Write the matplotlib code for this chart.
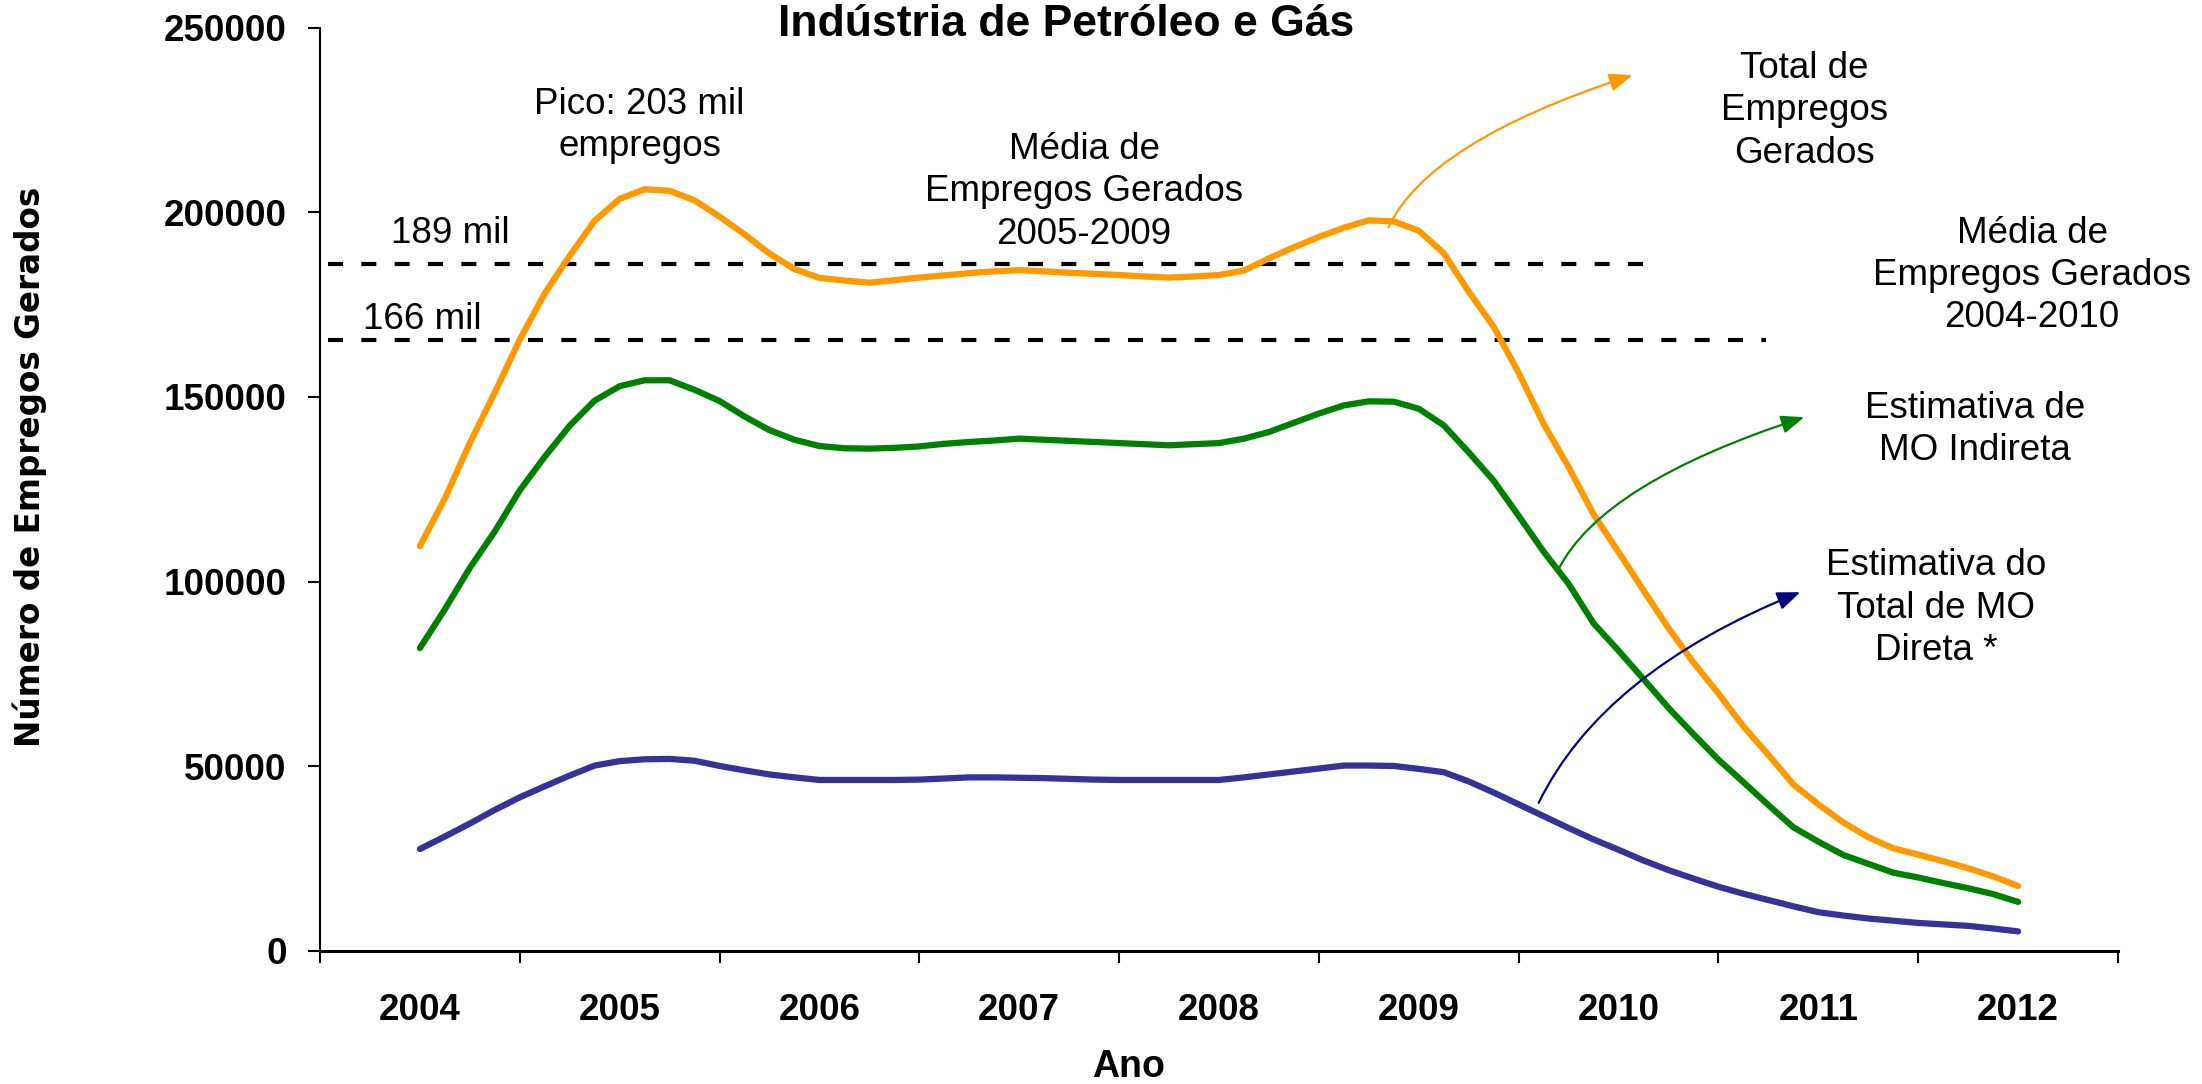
import matplotlib
matplotlib.use("Agg")
import matplotlib.pyplot as plt
import numpy as np

# ---------------- data ----------------
years = [2004, 2005, 2006, 2007, 2008, 2009, 2010, 2011, 2012]
# sample points every 1/8 year from 2004.0 to 2012.0
t = [2004 + i / 8 for i in range(65)]

total_empregos = [
    109600, 122500, 137500, 151200, 165500, 178000, 188200, 197700,
    203600, 206200, 205800, 203200, 198800, 194000, 188800, 184600,
    182200, 181500, 180900, 181600, 182300, 182900, 183500, 184000,
    184300, 184000, 183600, 183300, 183000, 182600, 182300, 182600,
    183000, 184200, 187500, 190500, 193300, 195800, 197800, 197500,
    195000, 188900, 178500, 169000, 156500, 142700, 131000, 118200,
    108000, 97600, 87400, 78100, 69700, 60800, 53100, 45100,
    39700, 34800, 30800, 27800, 26100, 24300, 22400, 20200,
    17600,
]
mo_indireta = [
    82000, 92500, 103700, 113600, 124700, 133800, 142200, 149000,
    152900, 154500, 154500, 151900, 148900, 144700, 141000, 138400,
    136700, 136100, 136000, 136200, 136600, 137300, 137800, 138200,
    138700, 138400, 138100, 137800, 137500, 137200, 136900, 137200,
    137500, 138700, 140500, 143000, 145500, 147700, 148800, 148700,
    146800, 142300, 135000, 127300, 117800, 108100, 99400, 88700,
    81300, 73600, 65800, 58700, 51800, 45700, 39500, 33500,
    29600, 26000, 23600, 21200, 19900, 18400, 17000, 15400,
    13300,
]
mo_direta = [
    27600, 31000, 34500, 38200, 41600, 44600, 47500, 50200,
    51400, 51900, 52000, 51500, 50100, 48900, 47800, 47000,
    46300, 46300, 46300, 46300, 46400, 46700, 47000, 47000,
    46900, 46800, 46600, 46400, 46300, 46300, 46300, 46300,
    46300, 47000, 47800, 48600, 49400, 50200, 50200, 50100,
    49300, 48400, 45900, 42900, 39700, 36500, 33300, 30200,
    27400, 24500, 21900, 19600, 17400, 15500, 13800, 12100,
    10500, 9600, 8800, 8200, 7600, 7200, 6800, 6100,
    5300,
]
# average lines (as drawn) and their labels
media_2005_2009 = 186000
media_2004_2010 = 165300
media_labels = ["189 mil", "166 mil"]
yticks = [0, 50000, 100000, 150000, 200000, 250000]

# ---------------- style ----------------
ORANGE = "#FF9900"
GREEN = "#008000"
BLUE = "#333399"
NAVY = "#000080"
FONT = ["Liberation Sans", "DejaVu Sans"]
plt.rcParams["font.family"] = FONT

W, H = 2202, 1084
fig = plt.figure(figsize=(W / 100, H / 100), dpi=100)
ax = fig.add_axes([320 / W, 1 - 951 / H, (2118 - 320) / W, (951 - 27.5) / H])

lw = 4.5
ax.plot(t, total_empregos, color=ORANGE, lw=lw, solid_capstyle="round", solid_joinstyle="round", zorder=3)
ax.plot(t, mo_indireta, color=GREEN, lw=lw, solid_capstyle="round", solid_joinstyle="round", zorder=3)
ax.plot(t, mo_direta, color=BLUE, lw=lw, solid_capstyle="round", solid_joinstyle="round", zorder=3)

# dashed average lines
ax.plot([2003.54, 2010.175], [media_2005_2009] * 2, color="black", lw=3.0,
        dashes=(3.6, 4.4), zorder=2)
ax.plot([2003.54, 2010.74], [media_2004_2010] * 2, color="black", lw=3.0,
        dashes=(3.6, 4.4), zorder=2)

ax.set_xlim(2003.5, 2012.5)
ax.set_ylim(0, 250000)

# spines
for s in ["top", "right"]:
    ax.spines[s].set_visible(False)
ax.spines["left"].set_linewidth(1.5)
ax.spines["bottom"].set_linewidth(2.2)

# y ticks
ax.set_yticks(yticks)
ax.set_yticklabels([str(v) for v in yticks], fontsize=26.5, fontweight="bold")
ax.tick_params(axis="y", direction="out", length=9, width=1.5, pad=15)

# x ticks: boundaries (major, unlabeled) and year centers (minor, labeled)
ax.set_xticks([y - 0.5 for y in years] + [years[-1] + 0.5])
ax.set_xticklabels([])
ax.set_xticks(years, minor=True)
ax.set_xticklabels([str(y) for y in years], minor=True, fontsize=26.5, fontweight="bold")
ax.tick_params(axis="x", which="major", direction="out", length=8.6, width=1.5)
ax.tick_params(axis="x", which="minor", length=0, pad=30)

# axis labels
fig.text(1129 / W, 1 - 1067 / H, "Ano", fontsize=27, fontweight="bold", ha="center", va="center")
fig.text(30 / W, 1 - 467 / H, "Número de Empregos Gerados", fontsize=23.5, fontweight="bold",
         rotation=90, ha="center", va="center", family=["DejaVu Sans"])

# title
fig.text(1066 / W, 1 - 24 / H, "Indústria de Petróleo e Gás", fontsize=32, fontweight="bold",
         ha="center", va="center")

# annotations
tk = dict(fontsize=26.5, ha="center", va="center", linespacing=1.27, clip_on=False)
ax.text(2005.10, 223400, "Pico: 203 mil\nempregos", **tk)
ax.text(2004.15, 194300, media_labels[0], **tk)
ax.text(2004.01, 171000, media_labels[1], **tk)
ax.text(2007.325, 205500, "Média de\nEmpregos Gerados\n2005-2009", **tk)
ax.text(2010.93, 227400, "Total de\nEmpregos\nGerados", **tk)
ax.text(2012.07, 182900, "Média de\nEmpregos Gerados\n2004-2010", **tk)
ax.text(2011.785, 141100, "Estimativa de\nMO Indireta", **tk)
ax.text(2011.59, 92800, "Estimativa do\nTotal de MO\nDireta *", **tk)

# curved arrows
def curved_arrow(start, end, color, angA, angB):
    ax.annotate("", xy=end, xytext=start, xycoords="data", textcoords="data",
                arrowprops=dict(arrowstyle="-|>,head_length=1.4,head_width=0.55",
                                color=color, lw=1.6, shrinkA=0, shrinkB=0,
                                connectionstyle=f"angle3,angleA={angA},angleB={angB}"),
                annotation_clip=False)

curved_arrow((2008.848, 195900), (2010.07, 237100), ORANGE, 65, 18)
curved_arrow((2009.70, 103400), (2010.93, 144500), GREEN, 63, 18)
curved_arrow((2009.60, 40100), (2010.91, 97150), NAVY, 64, 22)

fig.savefig("out.png", dpi=100)
